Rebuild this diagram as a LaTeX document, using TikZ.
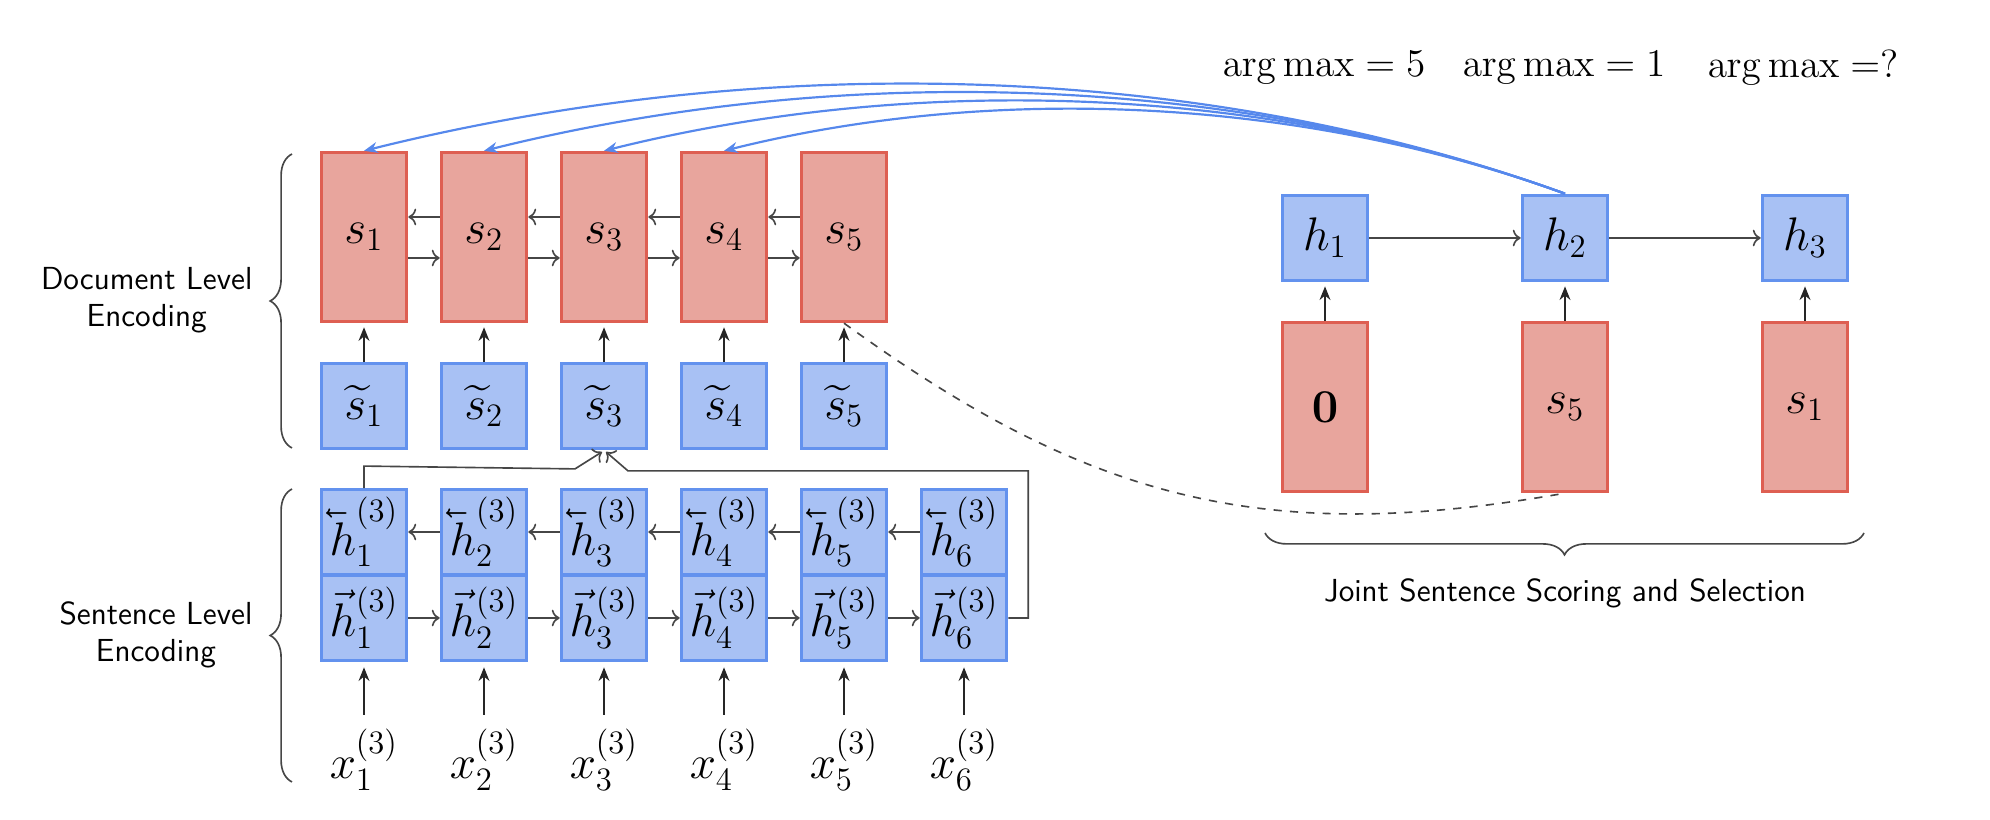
\documentclass[tikz,border=0pt]{standalone}
\usepackage{amsmath,amssymb,graphicx}
\usetikzlibrary{arrows.meta,decorations.pathreplacing,calc}
\definecolor{rfill}{HTML}{E8A59D}
\definecolor{rdraw}{HTML}{DE5F52}
\definecolor{bfill}{HTML}{A8C1F4}
\definecolor{bdraw}{HTML}{6392EE}
\definecolor{bline}{HTML}{5688EC}
\definecolor{lgray}{HTML}{464646}
\newcommand{\lvh}{\mathord{\rlap{\hspace{-0.06em}\reflectbox{$\vec{\phantom{h}}$}}h}}
\begin{document}
\begin{tikzpicture}[x=0.0129cm,y=-0.0129cm,
  rbox/.style={draw=rdraw,fill=rfill,line width=1.2pt,minimum width=1.10cm,minimum height=2.18cm,inner sep=0pt,font=\LARGE},
  bbox/.style={draw=bdraw,fill=bfill,line width=1.2pt,minimum width=1.10cm,minimum height=1.09cm,inner sep=0pt,font=\LARGE},
  lbl/.style={font=\sffamily\fontsize{11.7}{13.6}\selectfont,align=center},
  harr/.style={draw=lgray,line width=0.6pt,->},
  varr/.style={draw=black!85,line width=0.6pt,-{Stealth[length=5pt,width=4pt]},shorten >=1.5pt},
  bluearr/.style={draw=bline,line width=0.8pt,-{Stealth[length=5pt,width=4pt]}},
  brc/.style={draw=lgray,line width=0.6pt,decorate,decoration={brace,amplitude=8pt}}
]
\useasboundingbox (0,0) rectangle (1990,820);

% document level
\foreach \i/\x in {1/364,2/484,3/604,4/724,5/844}{
  \node[rbox] (s\i) at (\x,237) {$s_{\i}$};
  \node[bbox] (t\i) at (\x,406) {$\widetilde{s}_{\i}$};
  \draw[varr] (t\i.north) -- (s\i.south);
}
\foreach \a/\b in {1/2,2/3,3/4,4/5}{
  \draw[harr] ($(s\b.west)+(0,-20)$) -- ($(s\a.east)+(0,-20)$);
  \draw[harr] ($(s\a.east)+(0,21)$) -- ($(s\b.west)+(0,21)$);
}

% sentence level
\foreach \i/\x in {1/364,2/484,3/604,4/724,5/844,6/964}{
  \node[bbox] (h\i t) at (\x,532) {$\lvh_{\i}^{(3)}$};
  \node[bbox] (h\i b) at (\x,618) {$\vec{h}_{\i}^{(3)}$};
  \node[font=\LARGE] (x\i) at (\x,760) {$x_{\i}^{(3)}$};
  \coordinate (xa\i) at (\x,715);
  \draw[varr,shorten >=2pt] (xa\i) -- (h\i b.south);
}
\foreach \a/\b in {1/2,2/3,3/4,4/5,5/6}{
  \draw[harr] (h\b t.west) -- (h\a t.east);
  \draw[harr] (h\a b.east) -- (h\b b.west);
}
\draw[harr] (h1t.north) -- ++(0,-22) -- ($(t3.south)+(-29,19)$) -- ($(t3.south)+(-2,2)$);
\draw[harr] (h6b.east) -- ++(20,0) |- ($(t3.south)+(24,21)$) -- ($(t3.south)+(2,2)$);

% braces and labels
\draw[brc] (292,448) -- (292,154);
\node[lbl,anchor=east] (dl) at (262,300) {Document Level\\Encoding};
\draw[brc] (292,782) -- (292,489);
\node[lbl,anchor=east] (sl) at (262,635) {Sentence Level\\Encoding};

% right part
\node[bbox,minimum height=1.10cm] (r1h) at (1325,238) {$h_1$};
\node[bbox,minimum height=1.10cm] (r2h) at (1565,238) {$h_2$};
\node[bbox,minimum height=1.10cm] (r3h) at (1805,238) {$h_3$};
\node[rbox] (r1) at (1325,407) {$\mathbf{0}$};
\node[rbox] (r2) at (1565,407) {$s_5$};
\node[rbox] (r3) at (1805,407) {$s_1$};
\foreach \i in {1,2,3}{\draw[varr] (r\i.north) -- (r\i h.south);}
\draw[harr] (r1h) -- (r2h);
\draw[harr] (r2h) -- (r3h);

\node[font=\Large] (am1) at (1324,68) {$\arg\max = 5$};
\node[font=\Large] (am2) at (1564,68) {$\arg\max = 1$};
\node[font=\Large] (am3) at (1803,68) {$\arg\max =?$};

\draw[brc] (1864,533) -- (1265,533);
\node[lbl] (jl) at (1565,593) {Joint Sentence Scoring and Selection};

% blue pointer curves
\foreach \i in {1,2,3,4}{
  \draw[bluearr] (r2h.north) to[out=160,in=14,looseness=0.85] (s\i.north);
}
% dashed link
\draw[lgray,line width=0.6pt,dashed] (s5.south) to[out=-36,in=190,looseness=1.05] (r2.south);
\end{tikzpicture}
\end{document}
